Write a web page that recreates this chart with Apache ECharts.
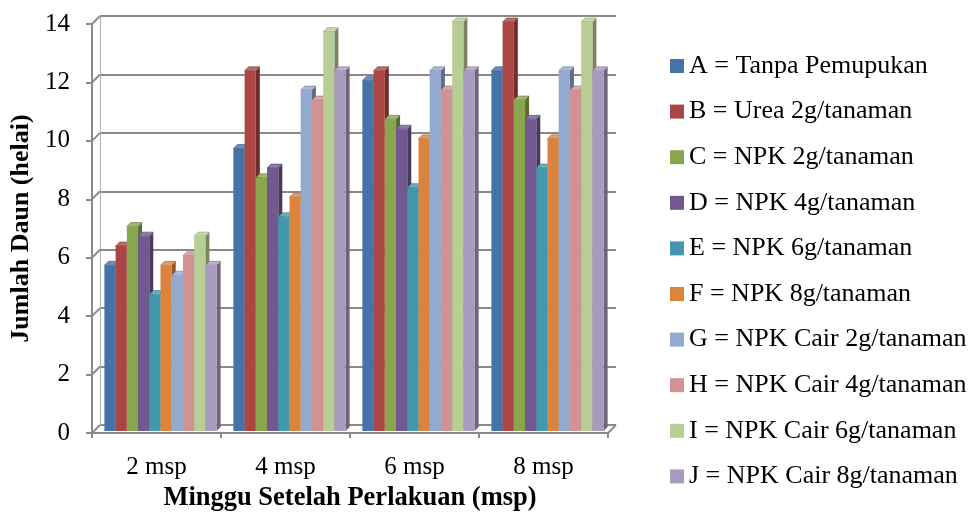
<!DOCTYPE html>
<html>
<head>
<meta charset="utf-8">
<script src="https://cdn.jsdelivr.net/npm/echarts@6/dist/echarts.min.js"></script>
<style>
html,body{margin:0;padding:0;background:#fff;}
#chart{width:976px;height:518px;}
</style>
</head>
<body>
<div id="chart"></div>
<script>
// kategori (minggu setelah perlakuan)
var categories = ['2 msp', '4 msp', '6 msp', '8 msp'];
var yTicks = [0, 2, 4, 6, 8, 10, 12, 14];

// jumlah daun per perlakuan
var seriesNames = [
	'A = Tanpa Pemupukan',
	'B = Urea 2g/tanaman',
	'C = NPK 2g/tanaman',
	'D = NPK 4g/tanaman',
	'E = NPK 6g/tanaman',
	'F = NPK 8g/tanaman',
	'G = NPK Cair 2g/tanaman',
	'H = NPK Cair 4g/tanaman',
	'I = NPK Cair 6g/tanaman',
	'J = NPK Cair 8g/tanaman'
];
var A = [5.67, 9.67, 12, 12.33];
var B = [6.33, 12.33, 12.33, 14];
var C = [7, 8.67, 10.67, 11.33];
var D = [6.67, 9, 10.33, 10.67];
var E = [4.67, 7.33, 8.33, 9];
var F = [5.67, 8, 10, 10];
var G = [5.33, 11.67, 12.33, 12.33];
var H = [6, 11.33, 11.67, 11.67];
var I = [6.67, 13.67, 14, 14];
var J = [5.67, 12.33, 12.33, 12.33];
var allValues = [A, B, C, D, E, F, G, H, I, J];

var colors = ['#4572A7', '#AA4643', '#89A54E', '#71588F', '#4198AF',
	'#DB843D', '#93A9CF', '#D19392', '#B9CD96', '#A99BBD'];

var font = '"Liberation Serif", "Times New Roman", serif';
var gray = '#8a8a8a';

function shade(hex, amt) {
	var n = parseInt(hex.slice(1), 16);
	var r = n >> 16, g = (n >> 8) & 255, b = n & 255;
	function f(c) {
		c = amt < 0 ? c * (1 + amt) : c + (255 - c) * amt;
		return Math.max(0, Math.min(255, Math.round(c)));
	}
	return 'rgb(' + f(r) + ',' + f(g) + ',' + f(b) + ')';
}

// batang 3D: muka depan, sisi kanan, dan atas
function barItem(idx) {
	return function (params, api) {
		var cat = api.value(0), val = api.value(1);
		var base = api.coord([cat, 0]);
		var top = api.coord([cat, val]);
		var band = api.size([1, 0])[0];
		var w = band * 0.087;
		var d = 4;
		var x0 = base[0] - 5 * w + idx * w + 4;
		var y0 = base[1] - 2, y1 = top[1] - 2;
		var c = colors[idx];
		return {
			type: 'group',
			children: [{
				type: 'polygon',
				shape: { points: [[x0 + w, y1], [x0 + w + d, y1 - d], [x0 + w + d, y0 - d], [x0 + w, y0]] },
				style: { fill: shade(c, -0.35) }
			}, {
				type: 'polygon',
				shape: { points: [[x0, y1], [x0 + d, y1 - d], [x0 + w + d, y1 - d], [x0 + w, y1]] },
				style: { fill: shade(c, 0.2), stroke: shade(c, -0.25), lineWidth: 0.6 }
			}, {
				type: 'rect',
				shape: { x: x0, y: y1, width: w, height: y0 - y1 },
				style: { fill: c }
			}]
		};
	};
}

// garis diagonal dari sumbu depan ke dinding belakang
function wallItem(params, api) {
	var p = api.coord([api.value(0), api.value(1)]);
	return {
		type: 'line',
		shape: { x1: p[0] - 8, y1: p[1] + 8, x2: p[0], y2: p[1] },
		style: { stroke: gray, lineWidth: 2 }
	};
}

var series = seriesNames.map(function (name, i) {
	return {
		name: name,
		type: 'custom',
		xAxisIndex: 0,
		yAxisIndex: 0,
		clip: false,
		z: 3,
		itemStyle: { color: colors[i] },
		renderItem: barItem(i),
		encode: { x: 0, y: 1 },
		data: allValues[i].map(function (v, j) { return [j, v]; })
	};
});

var wallData = yTicks.map(function (v) { return [0, v]; });
wallData.push([categories.length, 0]);
series.push({
	name: 'wall',
	type: 'custom',
	xAxisIndex: 1,
	yAxisIndex: 1,
	clip: false,
	silent: true,
	z: 1,
	renderItem: wallItem,
	encode: { x: 0, y: 1 },
	data: wallData
});

var option = {
	animation: false,
	backgroundColor: '#fff',
	textStyle: { fontFamily: font, color: '#000' },
	grid: [
		{ left: 92, right: 368, top: 24, bottom: 85 },
		{ left: 100, right: 360, top: 16, bottom: 93 }
	],
	legend: {
		orient: 'vertical',
		left: 665,
		top: 48,
		itemWidth: 14,
		itemHeight: 14,
		itemGap: 19.6,
		icon: 'rect',
		data: seriesNames,
		textStyle: { fontFamily: font, fontSize: 26, lineHeight: 26, color: '#000' }
	},
	xAxis: [{
		gridIndex: 0,
		type: 'category',
		data: categories,
		name: 'Minggu Setelah Perlakuan (msp)',
		nameLocation: 'middle',
		nameGap: 49,
		nameTextStyle: { fontFamily: font, fontSize: 26.5, fontWeight: 'bold', color: '#000' },
		axisLine: { show: true, lineStyle: { color: gray, width: 2 } },
		axisTick: { show: true, length: 5, lineStyle: { color: gray, width: 2 } },
		axisLabel: { fontFamily: font, fontSize: 25, color: '#000', margin: 22 },
		splitLine: { show: false }
	}, {
		gridIndex: 1,
		type: 'value',
		min: 0,
		max: categories.length,
		show: false
	}],
	yAxis: [{
		gridIndex: 0,
		type: 'value',
		min: 0,
		max: 14,
		interval: 2,
		name: 'Jumlah Daun (helai)',
		nameLocation: 'middle',
		nameGap: 56,
		nameTextStyle: { fontFamily: font, fontSize: 26, fontWeight: 'bold', color: '#000' },
		axisLine: { show: true, lineStyle: { color: gray, width: 2 } },
		axisTick: { show: true, length: 6, lineStyle: { color: gray, width: 2 } },
		axisLabel: { fontFamily: font, fontSize: 25, color: '#000', margin: 22 },
		splitLine: { show: false }
	}, {
		gridIndex: 1,
		type: 'value',
		min: 0,
		max: 14,
		interval: 2,
		axisLine: { show: true, lineStyle: { color: '#b0b0b0', width: 1 } },
		axisTick: { show: false },
		axisLabel: { show: false },
		splitLine: { show: true, lineStyle: { color: gray, width: 2 } }
	}],
	series: series
};

var myChart = echarts.init(document.getElementById('chart'));
myChart.setOption(option);
</script>
</body>
</html>
